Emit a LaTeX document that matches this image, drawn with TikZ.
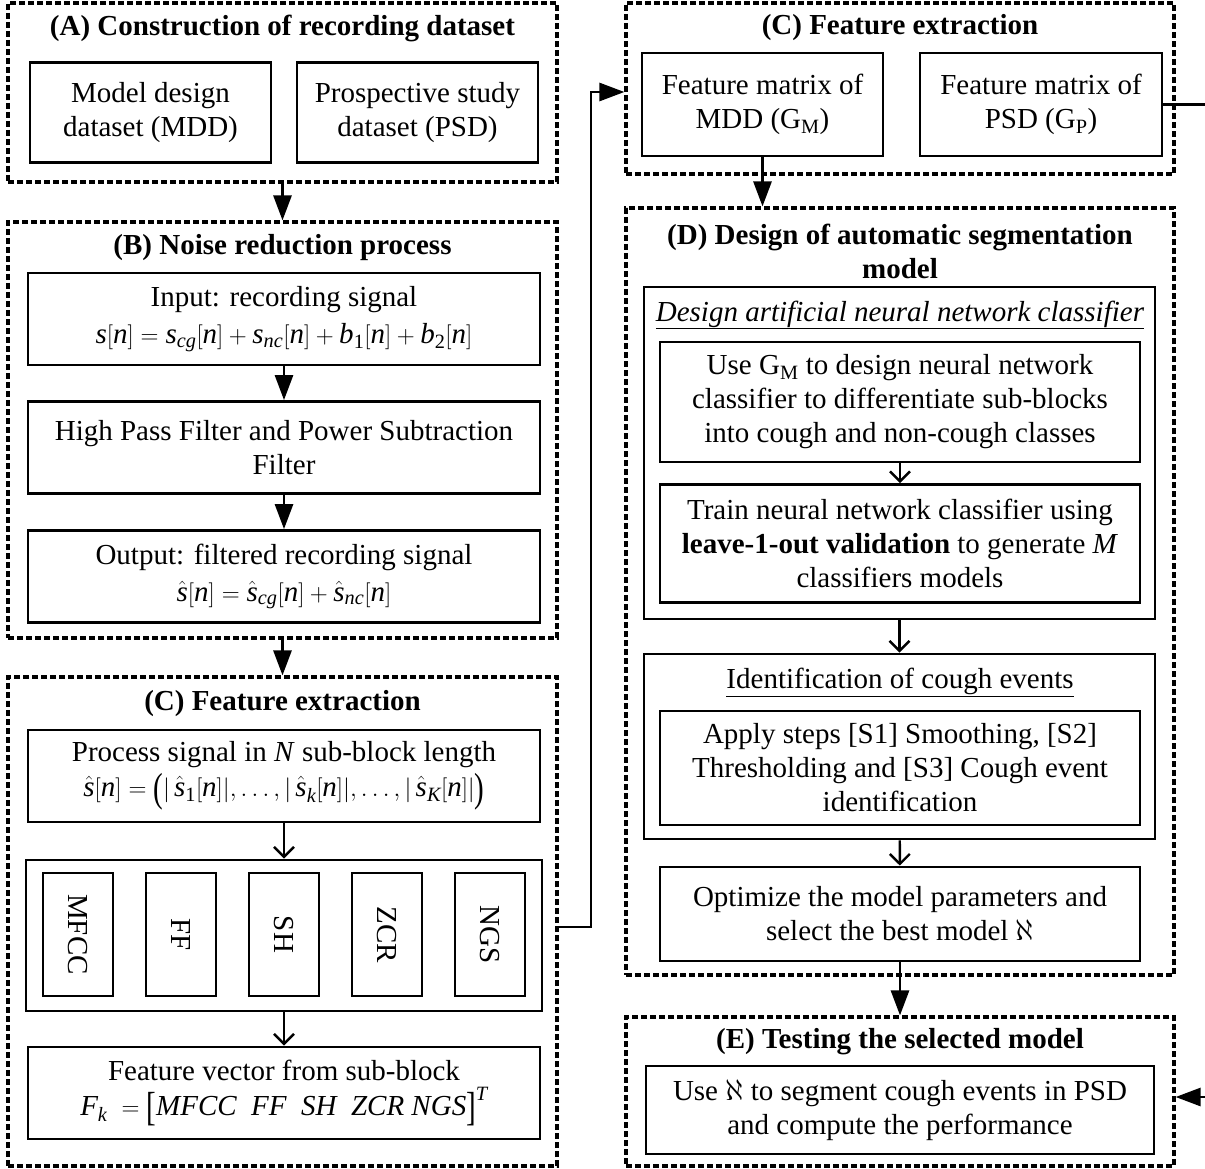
\documentclass[tikz,border=0pt]{standalone}
\usepackage{mathspec}
\setmainfont{Liberation Serif}
\setmathsfont(Digits,Latin){Liberation Serif}
\usetikzlibrary{arrows.meta}
\usetikzlibrary{positioning}

\newcommand{\bestmodel}{\scalebox{1.2}{$\aleph$}}
\newcommand{\tallfence}[1]{\raisebox{-5pt}{\scalebox{1}[1.4]{#1}}}

\begin{document}
\begin{tikzpicture}[
  x=1pt, y=-1pt,
  every node/.style={font=\fontsize{29}{34}\selectfont, align=center, inner sep=1pt},
  grp/.style={draw, dash pattern=on 6pt off 3pt, line width=3.2pt},
  box/.style={draw, line width=2.8pt},
  ttl/.style={font=\fontsize{29}{34}\selectfont\bfseries},
  arr/.style={-{Triangle[length=25pt,width=18pt]}, line width=2.8pt},
  oarr/.style={-{Straight Barb[length=10pt,width=20pt]}, line width=2.4pt}
]
\useasboundingbox (0,0) rectangle (1205,1169);

% (A) recording dataset
\node[grp, minimum width=549pt, minimum height=179pt] (grpA) at (282.5,92.5) {};
\node[ttl] (ttlA) at (282.5,28) {(A) Construction of recording dataset};
\node[box, minimum width=241pt, minimum height=100pt] (mdd) at (150.5,112.5) {Model design\\dataset (MDD)};
\node[box, minimum width=241pt, minimum height=100pt] (psd) at (417.5,112.5) {Prospective study\\dataset (PSD)};

% (B) noise reduction
\node[grp, minimum width=549pt, minimum height=416pt] (grpB) at (282.5,430) {};
\node[ttl] (ttlB) at (282.5,248) {(B) Noise reduction process};
\node[box, minimum width=512pt, minimum height=92pt] (input) at (284,319)
  {Input: recording signal\\[3pt] $s[n]=s_{cg}[n]+s_{nc}[n]+b_1[n]+b_2[n]$};
\node[box, minimum width=512pt, minimum height=92pt] (hpf) at (284,447.5)
  {High Pass Filter and Power Subtraction\\Filter};
\node[box, minimum width=512pt, minimum height=92pt] (output) at (284,576.5)
  {Output: filtered recording signal\\[3pt] $\hat{s}[n]=\hat{s}_{cg}[n]+\hat{s}_{nc}[n]$};

% (C) feature extraction, left
\node[grp, minimum width=549pt, minimum height=489pt] (grpC) at (282.5,921.5) {};
\node[ttl] (ttlC) at (282.5,704) {(C) Feature extraction};
\node[box, minimum width=512pt, minimum height=92pt] (proc) at (284,776)
  {Process signal in \textit{N} sub-block length\\[1pt]
   $\hat{s}[n]=\tallfence{(}|\,\hat{s}_1[n]|,\ldots,|\,\hat{s}_k[n]|,\ldots,|\,\hat{s}_K[n]|\tallfence{)}$};
\node[box, minimum width=516pt, minimum height=151pt] (feat) at (284,935.5) {};
\foreach \nm/\xx in {MFCC/78, FF/181, SH/284, ZCR/387, NGS/490}
  \node[box, rotate=-90, minimum width=123pt, minimum height=70pt] (f\nm) at (\xx,934.5) {\nm};
\node[box, minimum width=512pt, minimum height=92pt] (vec) at (284,1093)
  {Feature vector from sub-block\\[1pt]
   $F_k\ =\tallfence{[}MFCC\ \ FF\ \ SH\ \ ZCR\ NGS\tallfence{]}^T$};

% (C) feature extraction, right
\node[grp, minimum width=548pt, minimum height=171pt] (grpCr) at (900,88.5) {};
\node[ttl] (ttlCr) at (900,28) {(C) Feature extraction};
\node[box, minimum width=241pt, minimum height=103pt] (gm) at (762.5,104.5) {Feature matrix of\\MDD (G\textsubscript{M})};
\node[box, minimum width=242pt, minimum height=103pt] (gp) at (1041,104.5) {Feature matrix of\\PSD (G\textsubscript{P})};

% (D) segmentation model
\node[grp, minimum width=548pt, minimum height=767pt] (grpD) at (900,591.5) {};
\node[ttl] (ttlD) at (900,251.5) {(D) Design of automatic segmentation\\model};
\node[box, minimum width=511pt, minimum height=332pt] (ann) at (899.5,453) {};
\node (annhead) at (900,315) {\underline{\textit{Design artificial neural network classifier}}};
\node[box, minimum width=480pt, minimum height=120pt] (use) at (900,402)
  {Use G\textsubscript{M} to design neural network\\classifier to differentiate sub-blocks\\into cough and non-cough classes};
\node[box, minimum width=480pt, minimum height=118pt] (train) at (900,543.5)
  {Train neural network classifier using\\\textbf{leave-1-out validation} to generate \textit{M}\\classifiers models};
\node[box, minimum width=511pt, minimum height=185pt] (ident) at (899.5,746.5) {};
\node (identhead) at (900,682) {\underline{Identification of cough events}};
\node[box, minimum width=480pt, minimum height=114pt] (apply) at (900,768)
  {Apply steps [S1] Smoothing, [S2]\\Thresholding and [S3] Cough event\\identification};
\node[box, minimum width=480pt, minimum height=94pt] (optim) at (900,914)
  {Optimize the model parameters and\\select the best model \bestmodel};

% (E) testing
\node[grp, minimum width=548pt, minimum height=149pt] (grpE) at (900,1091.5) {};
\node[ttl] (ttlE) at (900,1042) {(E) Testing the selected model};
\node[box, minimum width=508pt, minimum height=88pt] (test) at (900,1110)
  {Use \bestmodel\ to segment cough events in PSD\\and compute the performance};

% Flow
\draw[arr] (grpA.south) -- (grpB.north);
\draw[arr] (input) -- (hpf);
\draw[arr] (hpf) -- (output);
\draw[arr] (grpB.south) -- (grpC.north);
\draw[oarr] (proc) -- (feat);
\draw[oarr] (feat) -- (vec);
\draw[arr] (gm.south) -- (gm.south |- grpD.north);
\draw[oarr] (use) -- (train);
\draw[oarr] (ann) -- (ident);
\draw[oarr] (ident) -- (optim);
\draw[arr] (optim) -- (grpE);

% Long connectors
\coordinate (kneeL) at (591,927);
\coordinate (kneeT) at (591,92);
\draw[arr] (grpC.east |- kneeL) -- (kneeL) -- (kneeT) -- (grpCr.west |- kneeT);
\coordinate (kneeR) at (1212,104.5);
\coordinate (kneeB) at (1212,1097);
\draw[arr] (gp.east) -- (kneeR) -- (kneeB) -- (grpE.east |- kneeB);
\end{tikzpicture}
\end{document}
